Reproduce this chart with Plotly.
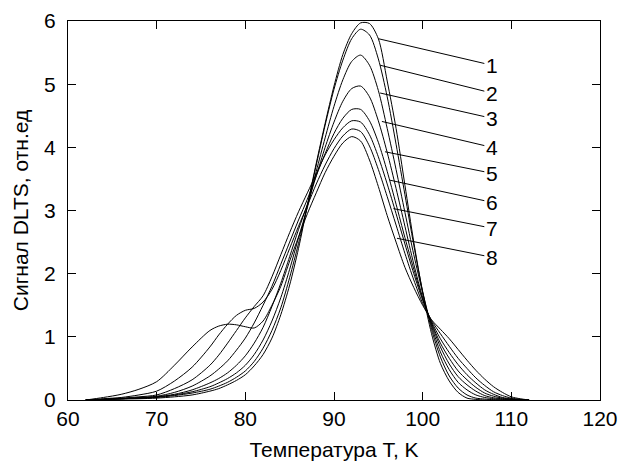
import plotly.graph_objects as go

temps = [62, 64, 66, 68, 70, 72, 74, 76, 77, 78, 79, 80, 81, 82, 83, 84, 85, 86, 87, 88, 89,
         90, 91, 92, 93, 94, 95, 96, 97, 98, 99, 100, 101, 102, 103, 104, 105, 106, 107,
         108, 109, 110, 111, 112]

curve1 = [0, 0.01, 0.015, 0.02, 0.03, 0.05, 0.08, 0.14, 0.18, 0.24, 0.31, 0.40, 0.54, 0.72, 0.98,
          1.35, 1.82, 2.40, 3.08, 3.75, 4.38, 4.97, 5.47, 5.80, 5.97, 5.96, 5.72, 5.05, 4.30, 3.40,
          2.50, 1.70, 1.05, 0.58, 0.30, 0.12, 0.03, 0.01, 0, 0, 0, 0, 0, 0]
curve2 = [0, 0.01, 0.02, 0.03, 0.04, 0.07, 0.11, 0.17, 0.22, 0.28, 0.36, 0.46, 0.61, 0.82, 1.10,
          1.46, 1.94, 2.48, 3.08, 3.72, 4.35, 4.92, 5.38, 5.72, 5.87, 5.78, 5.40, 4.80, 4.05, 3.25,
          2.45, 1.72, 1.12, 0.68, 0.38, 0.19, 0.08, 0.03, 0.015, 0.005, 0, 0, 0, 0]
curve3 = [0, 0.01, 0.02, 0.03, 0.05, 0.08, 0.13, 0.21, 0.27, 0.34, 0.43, 0.55, 0.72, 0.95, 1.25,
          1.62, 2.07, 2.57, 3.05, 3.62, 4.15, 4.65, 5.07, 5.36, 5.46, 5.30, 4.90, 4.30, 3.65, 2.97,
          2.30, 1.70, 1.17, 0.76, 0.48, 0.28, 0.16, 0.08, 0.04, 0.02, 0.01, 0, 0, 0]
curve4 = [0, 0.01, 0.02, 0.03, 0.05, 0.09, 0.16, 0.27, 0.34, 0.43, 0.55, 0.70, 0.90, 1.15, 1.48,
          1.85, 2.27, 2.70, 3.10, 3.55, 4.00, 4.40, 4.73, 4.93, 4.97, 4.80, 4.42, 3.92, 3.35, 2.75,
          2.15, 1.62, 1.20, 0.84, 0.57, 0.37, 0.24, 0.14, 0.07, 0.035, 0.02, 0.01, 0, 0]
curve5 = [0, 0.01, 0.02, 0.04, 0.06, 0.12, 0.22, 0.38, 0.49, 0.62, 0.79, 0.98, 1.22, 1.50, 1.80,
          2.15, 2.50, 2.85, 3.18, 3.55, 3.90, 4.22, 4.46, 4.60, 4.60, 4.42, 4.08, 3.62, 3.10, 2.57,
          2.07, 1.60, 1.22, 0.90, 0.66, 0.46, 0.32, 0.20, 0.11, 0.06, 0.03, 0.01, 0, 0]
curve6 = [0, 0.01, 0.03, 0.05, 0.08, 0.18, 0.32, 0.55, 0.71, 0.90, 1.10, 1.30, 1.48, 1.65, 1.95,
          2.30, 2.65, 2.98, 3.28, 3.58, 3.88, 4.12, 4.31, 4.42, 4.40, 4.20, 3.85, 3.42, 2.95, 2.47,
          2.00, 1.58, 1.24, 0.97, 0.75, 0.56, 0.40, 0.27, 0.16, 0.09, 0.04, 0.02, 0.005, 0]
curve7 = [0, 0.02, 0.04, 0.08, 0.14, 0.30, 0.52, 0.84, 1.03, 1.20, 1.34, 1.42, 1.45, 1.55, 1.75,
          2.05, 2.40, 2.75, 3.08, 3.42, 3.72, 3.98, 4.18, 4.29, 4.25, 4.02, 3.65, 3.22, 2.77, 2.32,
          1.90, 1.53, 1.26, 1.05, 0.85, 0.66, 0.50, 0.35, 0.23, 0.13, 0.07, 0.03, 0.01, 0]
curve8 = [0, 0.04, 0.09, 0.17, 0.29, 0.55, 0.84, 1.10, 1.17, 1.20, 1.19, 1.16, 1.14, 1.25, 1.50,
          1.80, 2.20, 2.58, 2.95, 3.28, 3.60, 3.86, 4.07, 4.17, 4.10, 3.80, 3.38, 2.92, 2.50, 2.10,
          1.78, 1.50, 1.27, 1.12, 0.97, 0.80, 0.63, 0.47, 0.33, 0.21, 0.12, 0.05, 0.02, 0]

curves = [curve1, curve2, curve3, curve4, curve5, curve6, curve7, curve8]
labels = ["1", "2", "3", "4", "5", "6", "7", "8"]

# leader lines: start point near the curves, label position
leader_T = [95.0, 95.2, 95.2, 95.4, 95.75, 96.3, 96.7, 97.1]
leader_v = [5.72, 5.30, 4.86, 4.41, 3.93, 3.48, 3.03, 2.56]
label_T = [107.8] * 8
label_v = [5.30, 4.86, 4.46, 4.00, 3.59, 3.13, 2.72, 2.26]

x_ticks = [60, 70, 80, 90, 100, 110, 120]
y_ticks = [0, 1, 2, 3, 4, 5, 6]

font_family = "Liberation Sans, Arial, sans-serif"
fsize = 21

fig = go.Figure()
for name, ys in zip(labels, curves):
    fig.add_trace(go.Scatter(
        x=temps, y=ys, mode="lines", name=name,
        line=dict(color="black", width=1, shape="spline", smoothing=0.8),
        showlegend=False, hoverinfo="skip",
    ))

annotations = []
for lab, sx, sy, lx, ly in zip(labels, leader_T, leader_v, label_T, label_v):
    annotations.append(dict(
        x=sx, y=sy, xref="x", yref="y",
        ax=lx, ay=ly, axref="x", ayref="y",
        text=lab, showarrow=True, arrowhead=0, arrowwidth=1, arrowcolor="black",
        standoff=0, startstandoff=0,
        font=dict(family=font_family, size=fsize, color="black"),
    ))

axis_common = dict(
    showline=True, linecolor="black", linewidth=1, mirror="ticks",
    ticks="inside", ticklen=8, tickcolor="black", tickwidth=1,
    showgrid=False, zeroline=False, automargin=False,
    tickfont=dict(family=font_family, size=fsize, color="black"),
)

fig.update_layout(
    width=623, height=461,
    margin=dict(l=68, r=23, t=21, b=61),
    paper_bgcolor="white", plot_bgcolor="white",
    xaxis=dict(range=[60, 120], tickvals=x_ticks, ticktext=[str(t) for t in x_ticks],
               ticklabelstandoff=0,
               title=dict(text="Температура T, K", standoff=18,
                          font=dict(family=font_family, size=fsize, color="black")),
               **axis_common),
    yaxis=dict(range=[0, 6], tickvals=y_ticks, ticktext=[str(t) for t in y_ticks],
               ticklabelstandoff=7,
               title=dict(text="Сигнал DLTS, отн.ед", standoff=9,
                          font=dict(family=font_family, size=fsize, color="black")),
               **axis_common),
    annotations=annotations,
)

fig.write_html("out.html",
               config={"displayModeBar": False},
               post_script="document.body.style.margin='0';document.body.style.padding='0';")
